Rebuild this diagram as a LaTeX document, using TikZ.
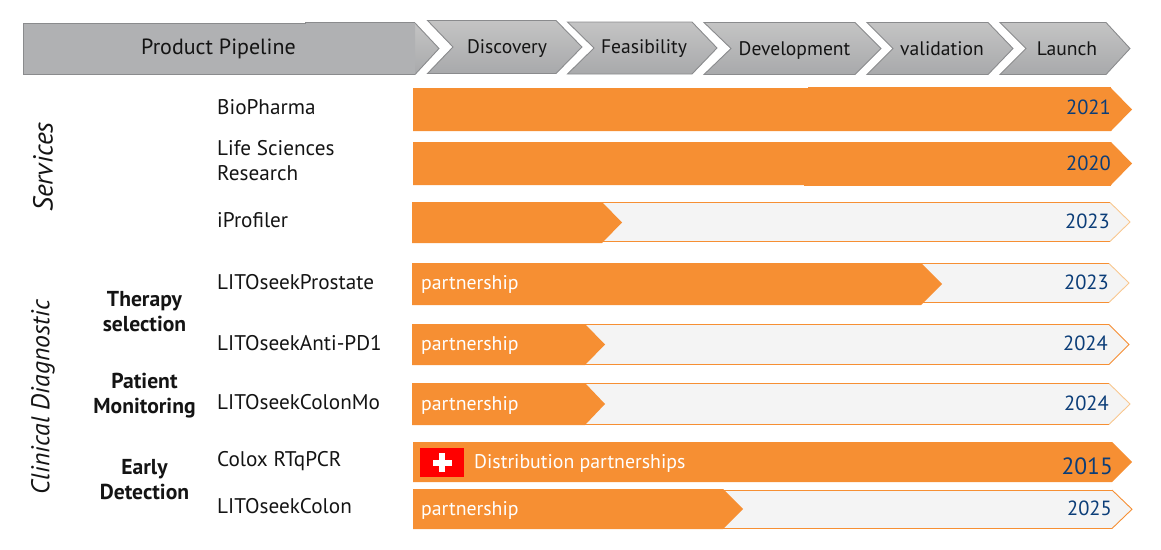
\documentclass[tikz,border=0pt]{standalone}
\usepackage{fontspec}
\setmainfont{PT Sans}
\definecolor{orangebar}{HTML}{F68F33}
\definecolor{lightbar}{HTML}{F4F4F4}
\definecolor{paleedge}{HTML}{F9C78F}
\definecolor{yearblue}{HTML}{0B3D78}
\definecolor{edgegrey}{HTML}{8A8B8D}
\definecolor{inktext}{HTML}{141414}
\definecolor{chevtop}{HTML}{C4C4C4}
\definecolor{chevbot}{HTML}{A8A9AB}
\definecolor{slab}{HTML}{B0B1B3}
\tikzset{
  x=1pt,y=-1pt,
  chev/.style={draw=edgegrey,line width=0.9pt,top color=chevtop,bottom color=chevbot},
  solidbar/.style={fill=orangebar,draw=none},
  ghostbar/.style={fill=lightbar,draw=none},
  baredge/.style={draw=orangebar,line width=0.9pt},
  headtext/.style={inner sep=0pt,text=inktext,font=\fontsize{19.6}{20}\selectfont},
  rowtext/.style={inner sep=0pt,anchor=west,align=left,text=inktext,font=\fontsize{21.2}{25}\selectfont},
  grouptext/.style={inner sep=0pt,align=center,text=inktext,font=\fontsize{21.6}{25}\selectfont\bfseries},
  sidetext/.style={inner sep=0pt,rotate=90,text=inktext,font=\fontsize{27.5}{28}\selectfont\itshape},
  yeartext/.style={inner sep=0pt,anchor=east,text=yearblue,font=\fontsize{20.5}{21}\selectfont},
  parttext/.style={inner sep=0pt,anchor=west,text=white,font=\fontsize{19.8}{21}\selectfont}
}
% #1 left #2 top #3 bottom #4 head x #5 tip x
\newcommand{\fullbar}[5]{\path[solidbar] (#1,#2) -- (#4,#2) -- (#5,{(#2+#3)/2}) -- (#4,#3) -- (#1,#3) -- cycle;}
\newcommand{\ghost}[5]{%
  \path[ghostbar] (#1,#2) -- (#4,#2) -- (#5,{(#2+#3)/2}) -- (#4,#3) -- (#1,#3) -- cycle;
  \draw[baredge] (#1,#2) -- (#4,#2);
  \draw[baredge] (#1,#3) -- (#4,#3);}
\newcommand{\tipedge}[5]{\draw[draw=#1,line width=0.9pt] (#2,#3) -- (#5,{(#3+#4)/2}) -- (#2,#4);}
\newcommand{\chevron}[6]{% left notch topright tip top bottom
  \path[chev] (#1,#5) -- (#3,#5) -- (#4,{(#5+#6)/2}) -- (#3,#6) -- (#1,#6) -- (#2,{(#5+#6)/2}) -- cycle;}
\begin{document}
\begin{tikzpicture}
\useasboundingbox (0,0) rectangle (1161,549);
% header
\path[top color=chevtop,bottom color=chevbot] (415,23) -- (439,48.5) -- (415,74.5) -- cycle;
\draw[edgegrey,line width=0.9pt] (415,23) -- (439,48.5) -- (415,74.5);
\path[fill=slab] (415,74.5) -- (23.5,74.5) -- (23.5,23.5) -- (305,23.5) -- (305,22.7) -- (415,22.7) -- cycle;
\draw[edgegrey,line width=0.9pt] (415,74.5) -- (23.5,74.5) -- (23.5,23.5) -- (305,23.5) -- (305,22.7) -- (415,22.7);
\chevron{427.5}{453}{556}{582}{20.5}{73.5}
\chevron{567.5}{594}{692}{717}{22}{74}
\chevron{704}{731}{855}{881}{22.5}{74.5}
\chevron{867}{893}{988}{1013}{22.5}{74.5}
\chevron{1000}{1026}{1106}{1130}{22.5}{74.5}
\node[headtext,font=\fontsize{22}{22}\selectfont] (pipeline) at (218.5,49) {Product Pipeline};
\node[headtext] (discovery) at (507,48.5) {Discovery};
\node[headtext] (feasibility) at (644,49) {Feasibility};
\node[headtext] (development) at (794.5,50.5) {Development};
\node[headtext] (validation) at (942,49) {validation};
\node[headtext] (launch) at (1067,49) {Launch};
% bars
\fullbar{413}{88}{131}{1111}{1132}
\path[solidbar] (808,87) rectangle (1111,90);
\fullbar{413}{142}{185}{1111}{1132}
\path[solidbar] (804,183) rectangle (1111,186);
\ghost{412}{202.5}{241.5}{1110}{1130}
\tipedge{paleedge}{1110}{202.5}{241.5}{1130}
\fullbar{412}{202}{243}{602}{622}
\ghost{412}{263.5}{302.5}{1109}{1129}
\tipedge{paleedge}{1109}{263.5}{302.5}{1129}
\fullbar{412}{263}{305}{921}{942}
\ghost{412}{324.5}{364.5}{1109}{1129}
\tipedge{orangebar}{1109}{324.5}{364.5}{1129}
\fullbar{412}{324}{365}{585}{605}
\ghost{412}{383.5}{424.5}{1109}{1130}
\tipedge{paleedge}{1109}{383.5}{424.5}{1130}
\fullbar{412}{383}{425}{585}{605}
\fullbar{413}{442}{482}{1112}{1132}
\ghost{413}{490}{528.5}{1112}{1132}
\tipedge{orangebar}{1112}{490}{528.5}{1132}
\fullbar{413}{489}{529}{723}{743}
% flag
\path[fill=red] (420,448) rectangle (464,477);
\path[fill=white] (432.5,459.5) rectangle (451.5,465.5);
\path[fill=white] (439,453) rectangle (445,472);
% row labels
\node[rowtext] (biopharma) at (217,107) {BioPharma};
\node[rowtext] (lifesci) at (217,160.5) {Life Sciences\\Research};
\node[rowtext] (iprofiler) at (217,220) {iProfiler};
\node[rowtext] (prostate) at (217,282) {LITOseekProstate};
\node[rowtext] (antipd) at (217,343.5) {LITOseekAnti-PD1};
\node[rowtext] (colonmo) at (217,402) {LITOseekColonMo};
\node[rowtext] (colox) at (217,461.5) {Colox RTqPCR};
\node[rowtext] (colon) at (217,506) {LITOseekColon};
% group labels
\node[grouptext] (therapy) at (144.5,312) {Therapy\\selection};
\node[grouptext] (patient) at (144.5,396) {Patient\\Monitoring};
\node[grouptext] (early) at (144.5,480) {Early\\Detection};
\node[sidetext] (services) at (43,167) {Services};
\node[sidetext,font=\fontsize{25.7}{26}\selectfont\itshape] (clinical) at (43,397) {Clinical Diagnostic};
% bar texts
\node[parttext] (p1) at (421,284) {partnership};
\node[parttext] (p2) at (421,345) {partnership};
\node[parttext] (p3) at (421,405) {partnership};
\node[parttext] (p4) at (421,510) {partnership};
\node[parttext] (dist) at (474,463) {Distribution partnerships};
\node[yeartext] (y1) at (1111,107) {2021};
\node[yeartext] (y2) at (1111,163) {2020};
\node[yeartext] (y3) at (1110,221) {2023};
\node[yeartext] (y4) at (1109,282) {2023};
\node[yeartext] (y5) at (1108,343) {2024};
\node[yeartext] (y6) at (1109,403) {2024};
\node[yeartext,font=\fontsize{23.5}{24}\selectfont] (y7) at (1113,466) {2015};
\node[yeartext] (y8) at (1112,508) {2025};
\end{tikzpicture}
\end{document}
